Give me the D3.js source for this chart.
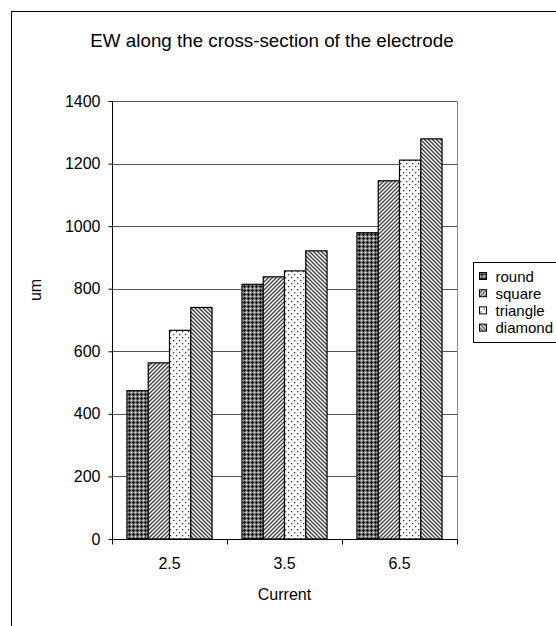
<!DOCTYPE html>
<html>
<head>
<meta charset="utf-8">
<script src="https://cdn.jsdelivr.net/npm/d3@7"></script>
<style>
  html, body { margin: 0; padding: 0; background: #fff; }
  svg { display: block; font-family: "Liberation Sans", Arial, sans-serif; }
</style>
</head>
<body>
<svg id="chart" width="556" height="626"></svg>
<script>
// Data
const categories = ["2.5", "3.5", "6.5"];
const seriesNames = ["round", "square", "triangle", "diamond"];
const round    = [474, 814, 979];
const square   = [563, 838, 1145];
const triangle = [667, 857, 1211];
const diamond  = [740, 921, 1279];
const yTicks = [0, 200, 400, 600, 800, 1000, 1200, 1400];
const title = "EW along the cross-section of the electrode";
const xTitle = "Current";
const yTitle = "um";

const seriesValues = [round, square, triangle, diamond];

const svg = d3.select("#chart");
const plot = { left: 112, right: 457, top: 101, bottom: 539 };

// Fill patterns, one per series
const defs = svg.append("defs");

// round: dark plaid of black crosses on grey
const pRound = defs.append("pattern").attr("id", "pat-round")
  .attr("patternUnits", "userSpaceOnUse").attr("width", 4).attr("height", 4);
pRound.append("rect").attr("width", 4).attr("height", 4).attr("fill", "#8a8a8a");
pRound.append("rect").attr("x", 0).attr("y", 0).attr("width", 1).attr("height", 1).attr("fill", "#e8e8e8");
pRound.append("path").attr("d", "M2,1h1v1h1v1h-1v1h-1v-1h-1v-1h1z").attr("fill", "#111");

// square: upward diagonal stripes
const pSquare = defs.append("pattern").attr("id", "pat-square")
  .attr("patternUnits", "userSpaceOnUse").attr("width", 4).attr("height", 4);
pSquare.append("rect").attr("width", 4).attr("height", 4).attr("fill", "#fff");
pSquare.append("path").attr("d", "M-1,1 l2,-2 M0,4 l4,-4 M3,5 l2,-2")
  .attr("stroke", "#3a3a3a").attr("stroke-width", 1.3);

// triangle: sparse staggered dots
const pTri = defs.append("pattern").attr("id", "pat-triangle")
  .attr("patternUnits", "userSpaceOnUse").attr("width", 6).attr("height", 6);
pTri.append("rect").attr("width", 6).attr("height", 6).attr("fill", "#fff");
pTri.append("rect").attr("x", 1).attr("y", 1).attr("width", 1.3).attr("height", 1.3).attr("fill", "#333");
pTri.append("rect").attr("x", 4).attr("y", 4).attr("width", 1.3).attr("height", 1.3).attr("fill", "#333");

// diamond: downward diagonal stripes
const pDia = defs.append("pattern").attr("id", "pat-diamond")
  .attr("patternUnits", "userSpaceOnUse").attr("width", 4).attr("height", 4);
pDia.append("rect").attr("width", 4).attr("height", 4).attr("fill", "#fff");
pDia.append("path").attr("d", "M-1,3 l2,2 M0,0 l4,4 M3,-1 l2,2")
  .attr("stroke", "#3a3a3a").attr("stroke-width", 1.3);

const fills = ["url(#pat-round)", "url(#pat-square)", "url(#pat-triangle)", "url(#pat-diamond)"];

// Outer chart border
svg.append("rect")
  .attr("x", 11.5).attr("y", 11.5).attr("width", 700).attr("height", 700)
  .attr("fill", "none").attr("stroke", "#000").attr("stroke-width", 1);

// Scales
const x0 = d3.scaleBand().domain(categories)
  .range([plot.left, plot.right]).paddingInner(0.26).paddingOuter(0.13);
const x1 = d3.scaleBand().domain(seriesNames).range([0, x0.bandwidth()]);
const y = d3.scaleLinear().domain([0, 1400]).range([plot.bottom, plot.top]);

// Gridlines
svg.append("g").selectAll("line").data(yTicks.filter(d => d > 0)).join("line")
  .attr("x1", plot.left).attr("x2", plot.right)
  .attr("y1", d => Math.round(y(d)) + 0.5).attr("y2", d => Math.round(y(d)) + 0.5)
  .attr("stroke", "#555").attr("stroke-width", 1);

// Plot area right border
svg.append("line")
  .attr("x1", plot.right + 0.5).attr("x2", plot.right + 0.5)
  .attr("y1", Math.round(y(1400)) + 0.5).attr("y2", plot.bottom)
  .attr("stroke", "#888").attr("stroke-width", 1);

// Bars
const groups = svg.append("g").selectAll("g").data(categories).join("g")
  .attr("transform", d => `translate(${x0(d)},0)`);
groups.selectAll("rect")
  .data((c, ci) => seriesNames.map((s, si) => ({ s, si, v: seriesValues[si][ci] })))
  .join("rect")
  .attr("x", d => x1(d.s))
  .attr("y", d => y(d.v))
  .attr("width", x1.bandwidth())
  .attr("height", d => y(0) - y(d.v))
  .attr("fill", d => fills[d.si])
  .attr("stroke", "#000").attr("stroke-width", 1.2);

// Y axis
const yAxis = d3.axisLeft(y).tickValues(yTicks).tickFormat(d3.format("d"))
  .tickSize(4).tickPadding(8);
const gy = svg.append("g").attr("transform", `translate(${plot.left + 0.5},0)`).call(yAxis);
gy.select(".domain").attr("stroke", "#000").attr("d", `M0,${plot.top}V${plot.bottom}`);
gy.selectAll(".tick line").attr("stroke", "#000");
gy.selectAll("text").attr("font-size", 16).attr("fill", "#000")
  .attr("font-family", "'Liberation Sans', Arial, sans-serif");

// X axis with ticks on category boundaries
const gx = svg.append("g").attr("transform", `translate(0,${plot.bottom + 0.5})`);
gx.append("line").attr("x1", plot.left).attr("x2", plot.right + 1)
  .attr("stroke", "#000");
const edges = [plot.left].concat(categories.map((c, i) => plot.left + x0.step() * (i + 1)));
gx.selectAll(".bt").data(edges).join("line").attr("class", "bt")
  .attr("x1", d => Math.round(d) + 0.5).attr("x2", d => Math.round(d) + 0.5)
  .attr("y1", 0).attr("y2", 5).attr("stroke", "#000");
gx.selectAll(".lbl").data(categories).join("text").attr("class", "lbl")
  .attr("x", d => x0(d) + x0.bandwidth() / 2).attr("y", 29)
  .attr("text-anchor", "middle").attr("font-size", 16).text(d => d);

// Titles
svg.append("text").attr("x", 272).attr("y", 47).attr("text-anchor", "middle")
  .attr("font-size", 18.8).text(title);
svg.append("text").attr("x", (plot.left + plot.right) / 2).attr("y", 600)
  .attr("text-anchor", "middle").attr("font-size", 16).text(xTitle);
svg.append("text").attr("transform", "translate(41,290) rotate(-90)")
  .attr("text-anchor", "middle").attr("font-size", 16).text(yTitle);

// Legend
const legend = svg.append("g").attr("transform", "translate(473.5,262.5)");
legend.append("rect").attr("width", 120).attr("height", 80)
  .attr("fill", "#fff").attr("stroke", "#000");
const items = legend.selectAll("g").data(seriesNames).join("g")
  .attr("transform", (d, i) => `translate(6,${13.5 + i * 17.2})`);
items.append("rect").attr("x", 0).attr("y", -3.5).attr("width", 7).attr("height", 7)
  .attr("fill", (d, i) => fills[i]).attr("stroke", "#000").attr("stroke-width", 1);
items.append("text").attr("x", 16).attr("y", 5.5).attr("font-size", 15).text(d => d);
</script>
</body>
</html>
